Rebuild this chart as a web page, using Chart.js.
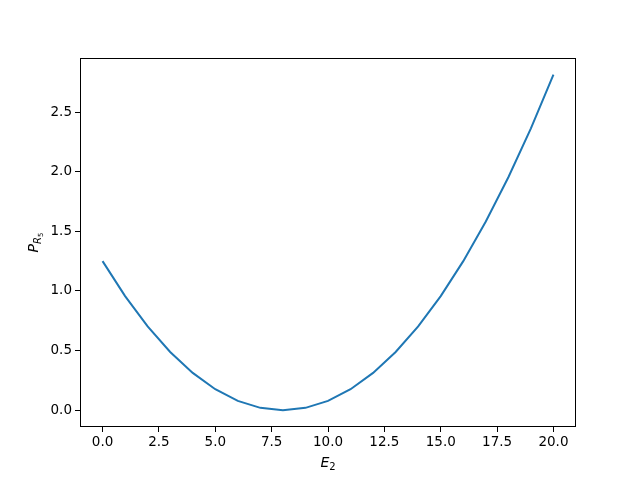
<!DOCTYPE html>
<html>
<head>
<meta charset="utf-8">
<script src="https://cdn.jsdelivr.net/npm/chart.js@4/dist/chart.umd.min.js"></script>
<style>
  html, body { margin: 0; padding: 0; background: #fff; }
  #wrap { width: 640px; height: 480px; }
</style>
</head>
<body>
<div id="wrap"><canvas id="chart" width="640" height="480"></canvas></div>
<script>
// values
const e2Values = [0, 1, 2, 3, 4, 5, 6, 7, 8, 9, 10, 11, 12, 13, 14, 15, 16, 17, 18, 19, 20];
const pValues = [1.25, 0.957, 0.703, 0.488, 0.313, 0.176, 0.078, 0.020, 0.0, 0.020, 0.078,
                 0.176, 0.313, 0.488, 0.703, 0.957, 1.25, 1.582, 1.953, 2.363, 2.813];
const xTicks = [0, 2.5, 5, 7.5, 10, 12.5, 15, 17.5, 20];
const yTicks = [0, 0.5, 1, 1.5, 2, 2.5];

const font = { family: 'DejaVu Sans', size: 13.5 };

const framePlugin = {
    id: 'frame',
    afterDraw(chart) {
        const { ctx, chartArea: a } = chart;
        ctx.save();
        ctx.strokeStyle = '#000';
        ctx.lineWidth = 1;
        ctx.strokeRect(a.left + 0.5, a.top + 0.5, a.right - a.left - 1, a.bottom - a.top - 1);

        // axis labels with subscripts
        ctx.fillStyle = '#000';
        const cx = (a.left + a.right) / 2;
        ctx.font = 'italic 14px "DejaVu Sans"';
        ctx.textBaseline = 'alphabetic';
        ctx.textAlign = 'left';
        const wE = ctx.measureText('E').width;
        ctx.font = '10px "DejaVu Sans"';
        const w2 = ctx.measureText('2').width;
        let x0 = cx - (wE + w2) / 2;
        ctx.font = 'italic 14px "DejaVu Sans"';
        ctx.fillText('E', x0, 467);
        ctx.font = '10px "DejaVu Sans"';
        ctx.fillText('2', x0 + wE, 470);

        ctx.translate(38, (a.top + a.bottom) / 2);
        ctx.rotate(-Math.PI / 2);
        ctx.font = 'italic 14px "DejaVu Sans"';
        const wP = ctx.measureText('P').width;
        ctx.font = 'italic 10px "DejaVu Sans"';
        const wR = ctx.measureText('R').width;
        ctx.font = '7px "DejaVu Sans"';
        const w5 = ctx.measureText('5').width;
        x0 = -(wP + wR + w5) / 2;
        ctx.font = 'italic 14px "DejaVu Sans"';
        ctx.fillText('P', x0, 0);
        ctx.font = 'italic 10px "DejaVu Sans"';
        ctx.fillText('R', x0 + wP, 3);
        ctx.font = '7px "DejaVu Sans"';
        ctx.fillText('5', x0 + wP + wR, 5);
        ctx.restore();
    }
};

new Chart(document.getElementById('chart'), {
    type: 'line',
    data: {
        datasets: [{
            data: e2Values.map((x, i) => ({ x: x, y: pValues[i] })),
            borderColor: '#1f77b4',
            borderWidth: 2,
            pointRadius: 0,
            tension: 0,
            fill: false
        }]
    },
    options: {
        responsive: false,
        animation: false,
        layout: { padding: { left: 0, top: 58, right: 64, bottom: 0 } },
        plugins: { legend: { display: false }, tooltip: { enabled: false } },
        scales: {
            x: {
                type: 'linear',
                min: -1,
                max: 21,
                afterBuildTicks: s => { s.ticks = xTicks.map(v => ({ value: v })); },
                afterFit: s => { s.height = 53; },
                grid: { drawOnChartArea: false, drawTicks: true, tickLength: 5, color: '#000' },
                border: { display: false },
                ticks: {
                    color: '#000', font: font, padding: 2, maxRotation: 0,
                    callback: v => v.toFixed(1)
                }
            },
            y: {
                min: -0.1406,
                max: 2.953,
                afterBuildTicks: s => { s.ticks = yTicks.map(v => ({ value: v })); },
                afterFit: s => { s.width = 80; },
                grid: { drawOnChartArea: false, drawTicks: true, tickLength: 5, color: '#000' },
                border: { display: false },
                ticks: {
                    color: '#000', font: font, padding: 3,
                    callback: v => v.toFixed(1)
                }
            }
        }
    },
    plugins: [framePlugin]
});
</script>
</body>
</html>
